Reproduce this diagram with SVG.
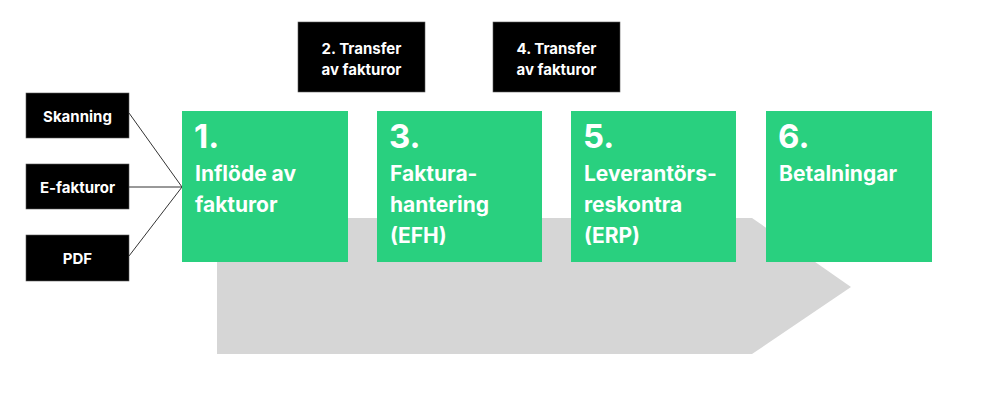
<svg xmlns="http://www.w3.org/2000/svg" width="986" height="410" viewBox="0 0 986 410">
<style>
.bg{fill:#ffffff}
.green{fill:#29D07F}
.black{fill:#000000;stroke:#5a5a5a;stroke-width:0.6}
.num{font-family:Inter,"Liberation Sans",sans-serif;font-weight:700;font-size:33px;fill:#ffffff}
.lbl{font-family:Inter,"Liberation Sans",sans-serif;font-weight:700;font-size:21px;fill:#ffffff}
.small{font-family:Inter,"Liberation Sans",sans-serif;font-weight:700;font-size:15px;fill:#ffffff;text-anchor:middle}
.conn{stroke:#333333;stroke-width:1;fill:none}
</style>
<rect class="bg" x="0" y="0" width="986" height="410"/>
<g id="flow-arrow">
<polygon points="217,218 752,218 851,287 752,354 217,354" fill="#D6D6D6"/>
</g>
<g id="connectors">
<line class="conn" x1="129" y1="113" x2="182" y2="187"/>
<line class="conn" x1="129" y1="187" x2="182" y2="187"/>
<line class="conn" x1="129" y1="256" x2="182" y2="187"/>
</g>
<g id="skanning">
<rect class="black" x="26" y="93" width="103" height="45"/>
<text class="small" x="77.5" y="122">Skanning</text>
</g>
<g id="efakturor">
<rect class="black" x="26" y="164" width="103" height="45"/>
<text class="small" x="77.5" y="193">E-fakturor</text>
</g>
<g id="pdf">
<rect class="black" x="26" y="235" width="103" height="46"/>
<text class="small" x="77.5" y="264">PDF</text>
</g>
<g id="transfer2">
<rect class="black" x="298" y="22" width="127" height="70"/>
<text class="small" x="361.5" y="54">2. Transfer</text>
<text class="small" x="361.5" y="75">av fakturor</text>
</g>
<g id="transfer4">
<rect class="black" x="493" y="22" width="127" height="70"/>
<text class="small" x="556.5" y="54">4. Transfer</text>
<text class="small" x="556.5" y="75">av fakturor</text>
</g>
<g id="step1">
<rect class="green" x="182" y="111" width="166" height="151"/>
<text class="num" x="194" y="148">1.</text>
<text class="lbl" x="195" y="181">Inflöde av</text>
<text class="lbl" x="195" y="212">fakturor</text>
</g>
<g id="step3">
<rect class="green" x="377" y="111" width="165" height="151"/>
<text class="num" x="389" y="148">3.</text>
<text class="lbl" x="390" y="181">Faktura-</text>
<text class="lbl" x="390" y="212">hantering</text>
<text class="lbl" x="390" y="243">(EFH)</text>
</g>
<g id="step5">
<rect class="green" x="571" y="111" width="165" height="151"/>
<text class="num" x="583" y="148">5.</text>
<text class="lbl" x="584" y="181">Leverantörs-</text>
<text class="lbl" x="584" y="212">reskontra</text>
<text class="lbl" x="584" y="243">(ERP)</text>
</g>
<g id="step6">
<rect class="green" x="766" y="111" width="166" height="151"/>
<text class="num" x="778" y="148">6.</text>
<text class="lbl" x="779" y="181">Betalningar</text>
</g>
</svg>
